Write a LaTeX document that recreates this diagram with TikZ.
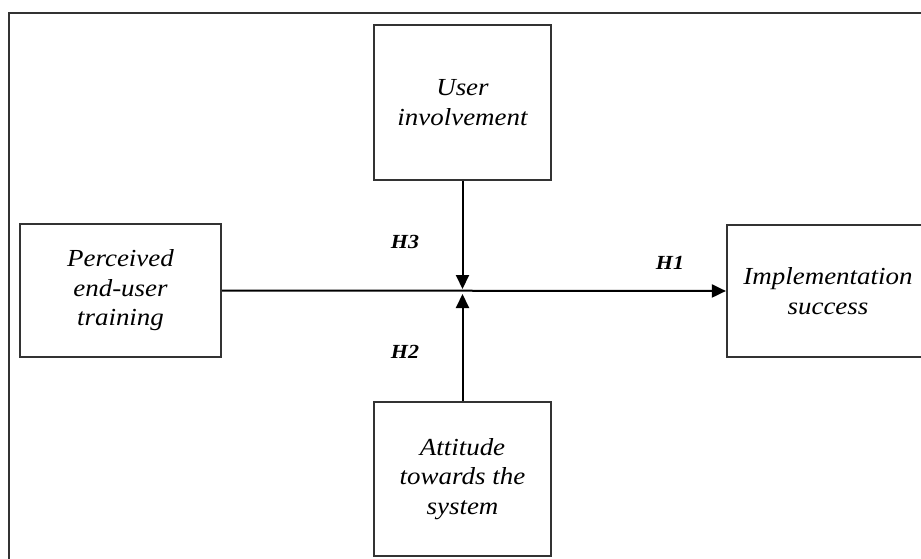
\documentclass[tikz,border=0pt]{standalone}
\usepackage{fontspec}
\setmainfont{Liberation Serif}
\newfontfamily\boxfont[FakeStretch=1.1]{Liberation Serif}
\usepackage{tikz}
\usetikzlibrary{arrows.meta}

\tikzset{
  construct/.style={draw=black!80, line width=2.2pt, inner sep=0pt, align=center,
    font=\boxfont\fontsize{24.5}{29.5}\selectfont\itshape},
  hyp/.style={font=\boxfont\fontsize{20}{22}\selectfont\bfseries\itshape},
  link/.style={line width=2pt, -{Triangle[length=14pt,width=13pt]}}
}

\begin{document}
\begin{tikzpicture}[x=1pt, y=-1pt]
\useasboundingbox (0,0) rectangle (921,559);
\clip (0,0) rectangle (921,559);
\fill[white] (0,0) rectangle (921,559);
% outer frame (runs off the page on the right and at the bottom)
\draw[black!80, line width=2pt] (9,13) rectangle (960,600);

\node[construct, minimum width=201pt, minimum height=133pt] (perc) at (120.5,290.5) {Perceived\\end-user\\training};
\node[construct, minimum width=177pt, minimum height=155pt] (user) at (462.5,102.5) {User\\involvement};
\node[construct, minimum width=177pt, minimum height=154pt] (attit) at (462.5,479) {Attitude\\towards the\\system};
\node[construct, minimum width=202pt, minimum height=132pt] (impl) at (828,291) {Implementation\\success};

\coordinate (jup) at (462.5,289);
\coordinate (jdown) at (462.5,294);

\draw[link] (perc.east) -- (impl.west);
\draw[link] (user.south) -- (jup);
\draw[link] (attit.north) -- (jdown);

\node[hyp] (h1) at (670,263) {H1};
\node[hyp] (h3) at (405,242) {H3};
\node[hyp] (h2) at (405,352) {H2};
\end{tikzpicture}
\end{document}
